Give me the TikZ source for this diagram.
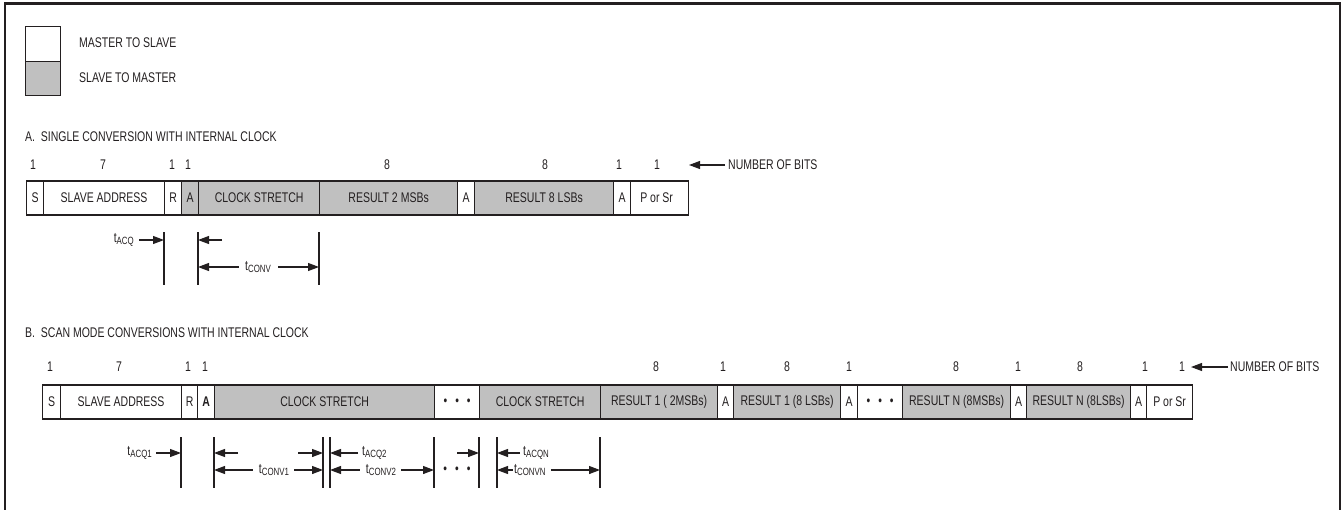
\documentclass[tikz,border=0pt]{standalone}
\usepackage{fontspec}
\setmainfont[FakeStretch=0.75]{Liberation Sans}
\usetikzlibrary{arrows.meta}
\definecolor{boxgray}{RGB}{192,192,192}
\definecolor{ink}{RGB}{35,31,32}
\newcommand\sub[1]{\raisebox{-0.3ex}{\fontsize{10.5}{11}\selectfont #1}}
\newcommand\mycell[6]{\node[#5, minimum width={(#3)-(#2)}] (#1) at (#2,#4) {#6};}
\newcommand\tdots{•\hspace{8pt}•\hspace{8pt}•}
\begin{document}
\begin{tikzpicture}[x=1pt,y=-1pt,
  font=\fontsize{14}{16}\selectfont,
  cell/.style={draw=ink, line width=1.2pt, minimum height=34pt, inner sep=0pt, anchor=west, text=ink},
  wcell/.style={cell, fill=white},
  gcell/.style={cell, fill=boxgray},
  lbl/.style={inner sep=0pt, text=ink},
  tick/.style={draw=ink, line width=1.1pt},
  dim/.style={draw=ink, line width=1.1pt, -{Triangle[length=11pt,width=8pt]}},
  frame/.style={draw=ink, line width=2.6pt}]
\useasboundingbox (0,0) rectangle (1343,509);
% frame
\coordinate (f1) at (5,512);
\coordinate (f2) at (5,3.5);
\coordinate (f3) at (1340,3.5);
\coordinate (f4) at (1340,512);
\draw[frame] (f1) -- (f2) -- (f3) -- (f4);
% legend
\node[wcell, minimum width=35pt, minimum height=35pt, anchor=north west] (legw) at (25,26) {};
\node[gcell, minimum width=35pt, minimum height=34pt, anchor=north west] (legg) at (25,61) {};
\node[lbl, anchor=west] (legwt) at (79,43) {MASTER TO SLAVE};
\node[lbl, anchor=west] (leggt) at (79,78) {SLAVE TO MASTER};
% titles
\node[lbl, anchor=west] (titleA) at (25,137) {A.\ \ SINGLE CONVERSION WITH INTERNAL CLOCK};
\node[lbl, anchor=west] (titleB) at (25,333) {B.\ \ SCAN MODE CONVERSIONS WITH INTERNAL CLOCK};
% ---------- row A ----------
\mycell{aS}{26}{43}{198}{wcell}{S}
\mycell{aAddr}{43}{164}{198}{wcell}{SLAVE ADDRESS}
\mycell{aR}{164}{181}{198}{wcell}{R}
\mycell{aA1}{181}{198}{198}{gcell}{A}
\mycell{aCS}{198}{319}{198}{gcell}{CLOCK STRETCH}
\mycell{aMSB}{319}{457}{198}{gcell}{RESULT 2 MSBs}
\mycell{aA2}{457}{474}{198}{wcell}{A}
\mycell{aLSB}{474}{613}{198}{gcell}{RESULT 8 LSBs}
\mycell{aA3}{613}{630}{198}{wcell}{A}
\mycell{aP}{630}{688}{198}{wcell}{\hspace{-6pt}P or Sr}
% bit numbers A
\node[lbl] (na1) at (33,165) {1};
\node[lbl] (na2) at (103,165) {7};
\node[lbl] (na3) at (172,165) {1};
\node[lbl] (na4) at (188,165) {1};
\node[lbl] (na5) at (387,165) {8};
\node[lbl] (na6) at (545,165) {8};
\node[lbl] (na7) at (619,165) {1};
\node[lbl] (na8) at (657,165) {1};
\node[lbl, anchor=west] (nbA) at (728,165) {NUMBER OF BITS};
\coordinate (nbAtip) at (689,165);
\draw[dim] ([xshift=-3pt]nbA.west) -- (nbAtip);
% timing A
\coordinate (kA1t) at (164,232); \coordinate (kA1b) at (164,285);
\coordinate (kA2t) at (198,232); \coordinate (kA2b) at (198,285);
\coordinate (kA3t) at (319,232); \coordinate (kA3b) at (319,285);
\draw[tick] (kA1t) -- (kA1b);
\draw[tick] (kA2t) -- (kA2b);
\draw[tick] (kA3t) -- (kA3b);
\node[lbl, anchor=east] (tacq) at (134,240) {t\sub{ACQ}};
\draw[dim] ([xshift=5pt]tacq.east) -- (kA1t |- tacq);
\coordinate (sA) at (222,240);
\draw[dim] (sA) -- (kA2t |- sA);
\node[lbl] (tconv) at (258,267) {t\sub{CONV}};
\draw[dim] ([xshift=-6pt]tconv.west) -- (kA2t |- tconv);
\draw[dim] ([xshift=7pt]tconv.east) -- (kA3t |- tconv);
% ---------- row B ----------
\mycell{bS}{42}{60}{402}{wcell}{S}
\mycell{bAddr}{60}{181}{402}{wcell}{SLAVE ADDRESS}
\mycell{bR}{181}{197}{402}{wcell}{R}
\mycell{bA1}{197}{214}{402}{wcell}{\textbf{A}}
\mycell{bCS1}{214}{434}{402}{gcell}{CLOCK STRETCH}
\mycell{bD1}{434}{479}{402}{wcell}{\tdots}
\mycell{bCS2}{479}{600}{402}{gcell}{CLOCK STRETCH}
\mycell{bM1}{600}{717}{402}{gcell}{RESULT 1 ( 2MSBs)}
\mycell{bA2}{717}{733}{402}{wcell}{A}
\mycell{bL1}{733}{840}{402}{gcell}{RESULT 1 (8 LSBs)}
\mycell{bA3}{840}{857}{402}{wcell}{A}
\mycell{bD2}{857}{902}{402}{wcell}{\tdots}
\mycell{bMN}{902}{1010}{402}{gcell}{RESULT N (8MSBs)}
\mycell{bA4}{1010}{1026}{402}{wcell}{A}
\mycell{bLN}{1026}{1130}{402}{gcell}{RESULT N (8LSBs)}
\mycell{bA5}{1130}{1146}{402}{wcell}{A}
\mycell{bP}{1146}{1192}{402}{wcell}{P or Sr}
% bit numbers B
\node[lbl] (nb1) at (50,367) {1};
\node[lbl] (nb2) at (119,367) {7};
\node[lbl] (nb3) at (188,367) {1};
\node[lbl] (nb4) at (205,367) {1};
\node[lbl] (nb5) at (656,367) {8};
\node[lbl] (nb6) at (723,367) {1};
\node[lbl] (nb7) at (787,367) {8};
\node[lbl] (nb8) at (849,367) {1};
\node[lbl] (nb9) at (956,367) {8};
\node[lbl] (nb10) at (1018,367) {1};
\node[lbl] (nb11) at (1080,367) {8};
\node[lbl] (nb12) at (1145,367) {1};
\node[lbl] (nb13) at (1182,367) {1};
\node[lbl, anchor=west] (nbB) at (1230,367) {NUMBER OF BITS};
\coordinate (nbBtip) at (1191,367);
\draw[dim] ([xshift=-2pt]nbB.west) -- (nbBtip);
% timing B ticks
\foreach \n/\x in {1/181,2/214,3/323,4/330,5/434,6/479,7/497,8/600}{
  \coordinate (kB\n t) at (\x,437);
  \coordinate (kB\n b) at (\x,488);
  \draw[tick] (kB\n t) -- (kB\n b);
}
% row 1 (y=453)
\node[lbl, anchor=east] (tacq1) at (152,453) {t\sub{ACQ1}};
\draw[dim] ([xshift=4pt]tacq1.east) -- (kB1t |- tacq1);
\coordinate (s1) at (238,453);
\draw[dim] (s1) -- (kB2t |- s1);
\coordinate (s2) at (298,453);
\draw[dim] (s2) -- (kB3t |- s2);
\node[lbl, anchor=west] (tacq2) at (362,453) {t\sub{ACQ2}};
\draw[dim] ([xshift=-4pt]tacq2.west) -- (kB4t |- tacq2);
\coordinate (s3) at (457,453);
\draw[dim] (s3) -- (kB6t |- s3);
\node[lbl, anchor=west] (tacqn) at (523,453) {t\sub{ACQN}};
\draw[dim] ([xshift=-3pt]tacqn.west) -- (kB7t |- tacqn);
% row 2 (y=470)
\node[lbl] (tconv1) at (274,470) {t\sub{CONV1}};
\draw[dim] ([xshift=-6pt]tconv1.west) -- (kB2t |- tconv1);
\draw[dim] ([xshift=5pt]tconv1.east) -- (kB3t |- tconv1);
\node[lbl] (tconv2) at (381,470) {t\sub{CONV2}};
\draw[dim] ([xshift=-6pt]tconv2.west) -- (kB4t |- tconv2);
\draw[dim] ([xshift=5pt]tconv2.east) -- (kB5t |- tconv2);
\node[lbl] (tdots) at (457,470) {\tdots};
\node[lbl, anchor=west] (tconvn) at (514,470) {t\sub{CONVN}};
\draw[dim] ([xshift=-1.5pt]tconvn.west) -- (kB7t |- tconvn);
\draw[dim] ([xshift=5pt]tconvn.east) -- (kB8t |- tconvn);
\end{tikzpicture}
\end{document}
